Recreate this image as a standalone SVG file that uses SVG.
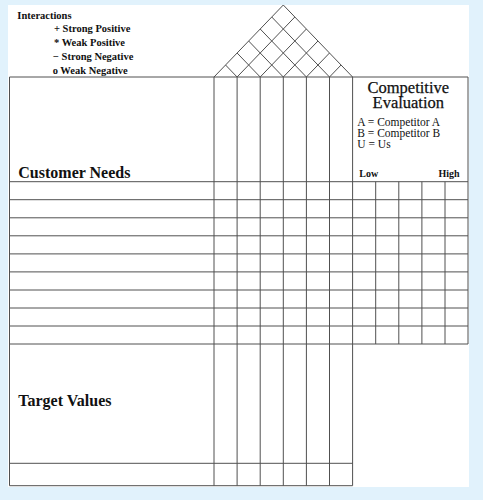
<svg xmlns="http://www.w3.org/2000/svg" width="483" height="500" viewBox="0 0 483 500">
<style>
.ln{stroke:#505050;stroke-width:1;fill:none}
.t{font-family:"Liberation Serif","Times New Roman",serif;fill:#111}
.b{font-weight:bold}
</style>
<rect x="0" y="0" width="483" height="500" fill="#e1f2fc"/>
<rect x="8" y="5" width="461" height="482" fill="#ffffff"/>

<g id="legend" class="t b" font-size="10.5">
<text x="17.3" y="18.5">Interactions</text>
<text x="54" y="32">+ Strong Positive</text>
<text x="54" y="46">* Weak Positive</text>
<text x="53" y="60">− Strong Negative</text>
<text x="52.7" y="73.5">o Weak Negative</text>
</g>

<g id="roof" class="ln">
<path d="M214,77 L283.3,5 L352.6,77"/>
<path d="M237.1,77 L294.85,17 M260.2,77 L306.4,29 M283.3,77 L317.95,41 M306.4,77 L329.5,53 M329.5,77 L341.05,65"/>
<path d="M329.5,77 L271.75,17 M306.4,77 L260.2,29 M283.3,77 L248.65,41 M260.2,77 L237.1,53 M237.1,77 L225.55,65"/>
</g>

<g id="customer-needs">
<text class="t b" x="18.3" y="178" font-size="16">Customer Needs</text>
</g>

<g id="competitive-evaluation" class="t">
<text x="408.3" y="92.5" font-size="16.5" text-anchor="middle" stroke="#111" stroke-width="0.25">Competitive</text>
<text x="408.3" y="107.5" font-size="16.5" text-anchor="middle" stroke="#111" stroke-width="0.25">Evaluation</text>
<text x="357.3" y="125.5" font-size="11.5">A = Competitor A</text>
<text x="357.3" y="136.7" font-size="11.5">B = Competitor B</text>
<text x="357.3" y="148" font-size="11.5">U = Us</text>
<text class="b" x="359.3" y="176.5" font-size="10">Low</text>
<text class="b" x="459.5" y="176.5" font-size="10" text-anchor="end">High</text>
</g>

<g id="target-values">
<text class="t b" x="18.3" y="406" font-size="16">Target Values</text>
</g>

<g id="grid" class="ln">
<path d="M9.5,77 H468 V344 M9.5,77 V485.7 H352.6"/>
<path d="M214,77 V485.7 M237.1,77 V485.7 M260.2,77 V485.7 M283.3,77 V485.7 M306.4,77 V485.7 M329.5,77 V485.7 M352.6,77 V485.7"/>
<path d="M375.7,181.7 V344 M398.8,181.7 V344 M421.9,181.7 V344 M445,181.7 V344"/>
<path d="M9.5,181.7 H468 M9.5,199.7 H468 M9.5,217.8 H468 M9.5,235.8 H468 M9.5,253.9 H468 M9.5,271.9 H468 M9.5,290 H468 M9.5,308 H468 M9.5,326 H468 M9.5,344 H468"/>
<path d="M9.5,463.3 H352.6"/>
</g>
</svg>
